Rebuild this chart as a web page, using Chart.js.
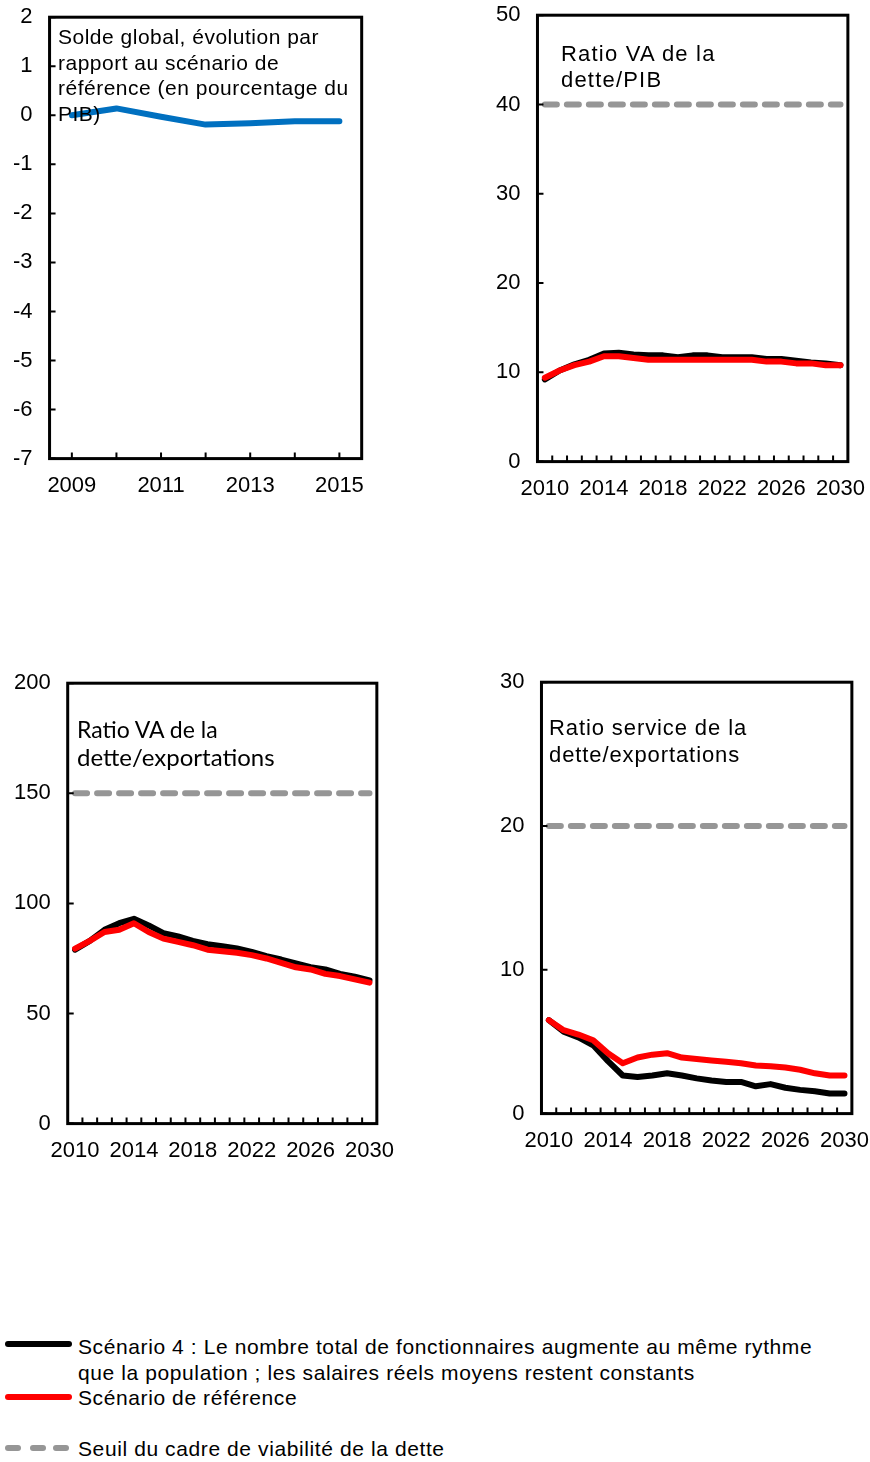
<!DOCTYPE html>
<html lang="fr">
<head>
<meta charset="utf-8">
<script src="https://cdn.jsdelivr.net/npm/chart.js@4.4.1/dist/chart.umd.min.js"></script>
<style>
  body { margin: 0; background: #fff; }
  #page { position: relative; width: 870px; height: 1462px; overflow: hidden;
          font-family: "Liberation Sans", Arial, sans-serif; color: #000; }
  canvas { position: absolute; }
  .titre { position: absolute; white-space: nowrap; }
  .leg { position: absolute; left: 78px; font-size: 21px; letter-spacing: 0.6px; line-height: 25.5px; white-space: nowrap; }
  .trait { position: absolute; left: 5px; width: 67px; height: 6px; border-radius: 3px; }
  .tiret { position: absolute; width: 16px; height: 6px; border-radius: 3px; background: #969696; }
</style>
</head>
<body>
<div id="page">
  <canvas id="c1"></canvas>
  <canvas id="c2"></canvas>
  <canvas id="c3"></canvas>
  <canvas id="c4"></canvas>

  <div class="titre" style="left:58px; top:24px; font-size:21px; letter-spacing:0.5px; line-height:25.5px;">Solde global, évolution par<br>rapport au scénario de<br>référence (en pourcentage du<br>PIB)</div>
  <div class="titre" style="left:561px; top:41px; font-size:22px; letter-spacing:1.2px; line-height:26px;">Ratio VA de la<br>dette/PIB</div>
  <div class="titre" style="left:77px; top:715px; font-family:Lato, sans-serif; font-size:23px; line-height:28px;">Ratio VA de la</div>
  <div class="titre" style="left:77px; top:742px; font-family:Lato, sans-serif; font-size:24px; line-height:29px;">dette/exportations</div>
  <div class="titre" style="left:549px; top:714px; font-size:22px; letter-spacing:0.9px; line-height:27px;">Ratio service de la<br>dette/exportations</div>

  <div class="trait" style="top:1341px; background:#000;"></div>
  <div class="leg" style="top:1334px;">Scénario 4 : Le nombre total de fonctionnaires augmente au même rythme<br>que la population ; les salaires réels moyens restent constants</div>
  <div class="trait" style="top:1394px; background:#f00;"></div>
  <div class="leg" style="top:1385px;">Scénario de référence</div>
  <div class="tiret" style="left:5px; top:1445px;"></div>
  <div class="tiret" style="left:30px; top:1445px;"></div>
  <div class="tiret" style="left:53px; top:1445px;"></div>
  <div class="leg" style="top:1436px;">Seuil du cadre de viabilité de la dette</div>
</div>

<script>
// années
const annees1 = ['2009', '2010', '2011', '2012', '2013', '2014', '2015'];
const annees = ['2010', '2011', '2012', '2013', '2014', '2015', '2016', '2017', '2018', '2019', '2020',
                '2021', '2022', '2023', '2024', '2025', '2026', '2027', '2028', '2029', '2030'];

// solde global, écart au scénario de référence (% du PIB)
const soldeGlobal = [0.0, 0.14, -0.03, -0.19, -0.16, -0.12, -0.12];

// VA de la dette / PIB
const vaPibScen4 = [9.2, 10.2, 10.9, 11.4, 12.1, 12.2, 12.0, 11.9, 11.9, 11.7, 11.9,
                    11.9, 11.7, 11.7, 11.7, 11.5, 11.5, 11.3, 11.1, 11.0, 10.8];
const vaPibRef = [9.4, 10.2, 10.8, 11.2, 11.8, 11.8, 11.6, 11.4, 11.4, 11.4, 11.4,
                  11.4, 11.4, 11.4, 11.4, 11.2, 11.2, 11.0, 11.0, 10.8, 10.8];

// VA de la dette / exportations
const vaExpScen4 = [79, 83, 88, 91, 93, 90, 86.5, 85, 83, 81.5, 80.6,
                    79.5, 78, 76, 74.5, 72.7, 71, 70, 68, 66.7, 65];
const vaExpRef = [79.5, 83, 87, 88, 91, 87, 84, 82.5, 81, 79, 78.3,
                  77.6, 76.5, 75, 73, 71, 70, 68, 67, 65.5, 64];

// service de la dette / exportations
const serviceScen4 = [6.5, 5.7, 5.3, 4.75, 3.65, 2.65, 2.55, 2.65, 2.8, 2.65, 2.45,
                      2.3, 2.2, 2.2, 1.9, 2.05, 1.8, 1.65, 1.55, 1.4, 1.4];
const serviceRef = [6.5, 5.8, 5.5, 5.1, 4.2, 3.5, 3.9, 4.1, 4.2, 3.9, 3.8,
                    3.7, 3.6, 3.5, 3.35, 3.3, 3.2, 3.05, 2.8, 2.65, 2.65];

// seuils du CVD
const seuilVaPib = 40;
const seuilVaExp = 150;
const seuilService = 20;

const NOIR = '#000000';
const ROUGE = '#ff0000';
const BLEU = '#0070c0';
const GRIS = '#969696';
const POLICE = '"Liberation Sans", Arial, sans-serif';

// cadre noir + petites graduations tournées vers l'intérieur
const cadre = {
  id: 'cadre',
  afterDatasetsDraw(chart, args, opts) {
    const { ctx, chartArea: a, scales: { x, y } } = chart;
    ctx.save();
    ctx.strokeStyle = '#000';
    ctx.lineWidth = 2;
    ctx.beginPath();
    const n = chart.data.labels.length;
    for (let i = 0; i < n; i++) {
      let px;
      if (opts.entre) {
        if (i === n - 1) break;
        px = (x.getPixelForValue(i) + x.getPixelForValue(i + 1)) / 2;
      } else {
        px = x.getPixelForValue(i);
      }
      ctx.moveTo(px, a.bottom);
      ctx.lineTo(px, a.bottom - 6);
    }
    y.ticks.forEach(t => {
      const py = y.getPixelForValue(t.value);
      ctx.moveTo(a.left, py);
      ctx.lineTo(a.left + 6, py);
    });
    ctx.stroke();
    ctx.lineWidth = 3;
    ctx.strokeRect(a.left, a.top, a.right - a.left, a.bottom - a.top);
    ctx.restore();
  }
};

function serie(data, couleur, ordre) {
  return {
    data: data,
    borderColor: couleur,
    borderWidth: 6,
    borderCapStyle: 'round',
    borderJoinStyle: 'round',
    pointRadius: 0,
    tension: 0,
    order: ordre
  };
}

function seuil(valeur, labels) {
  return {
    data: labels.map(() => valeur),
    borderColor: GRIS,
    borderWidth: 6,
    borderDash: [12, 10],
    borderCapStyle: 'round',
    pointRadius: 0,
    order: 2
  };
}

function config(labels, datasets, yMin, yMax, pas, tousLes, entre) {
  return {
    type: 'line',
    data: { labels: labels, datasets: datasets },
    options: {
      responsive: false,
      maintainAspectRatio: false,
      animation: false,
      layout: { padding: 2 },
      plugins: {
        legend: { display: false },
        tooltip: { enabled: false },
        cadre: { entre: entre }
      },
      scales: {
        x: {
          type: 'category',
          offset: true,
          grid: { display: false, drawTicks: false },
          border: { display: false },
          ticks: {
            autoSkip: false,
            maxRotation: 0,
            padding: 14,
            color: '#000',
            font: { family: POLICE, size: 22 },
            callback: function (v, i) { return i % tousLes === 0 ? this.getLabelForValue(v) : ''; }
          }
        },
        y: {
          min: yMin,
          max: yMax,
          grid: { display: false, drawTicks: false },
          border: { display: false },
          ticks: { stepSize: pas, padding: 17, color: '#000', font: { family: POLICE, size: 22 } }
        }
      }
    },
    plugins: [cadre]
  };
}

// p : zone de tracé voulue (gauche, haut, droite, bas) en px de page.
// On mesure les marges prises par les axes puis on ajuste la taille du canvas.
function panneau(id, p, labels, datasets, yMin, yMax, pas, tousLes, entre) {
  const c = document.getElementById(id);
  let w = (p.r - p.l) + 120;
  let h = (p.b - p.t) + 80;
  let chart = null;
  for (let passe = 0; passe < 4; passe++) {
    if (chart) chart.destroy();
    c.width = w;
    c.height = h;
    c.style.width = w + 'px';
    c.style.height = h + 'px';
    chart = new Chart(c, config(labels, datasets, yMin, yMax, pas, tousLes, entre));
    const a = chart.chartArea;
    const dw = (p.r - p.l) - (a.right - a.left);
    const dh = (p.b - p.t) - (a.bottom - a.top);
    if (Math.abs(dw) < 0.5 && Math.abs(dh) < 0.5) break;
    w = Math.round(w + dw);
    h = Math.round(h + dh);
  }
  c.style.left = (p.l - chart.chartArea.left) + 'px';
  c.style.top = (p.t - chart.chartArea.top) + 'px';
  return chart;
}

panneau('c1', { l: 50, t: 17, r: 362, b: 458 }, annees1,
  [serie(soldeGlobal, BLEU, 0)], -7, 2, 1, 2, false);

panneau('c2', { l: 537, t: 15, r: 847, b: 461 }, annees,
  [serie(vaPibRef, ROUGE, 0), serie(vaPibScen4, NOIR, 1), seuil(seuilVaPib, annees)],
  0, 50, 10, 4, true);

panneau('c3', { l: 68, t: 683, r: 377, b: 1123 }, annees,
  [serie(vaExpRef, ROUGE, 0), serie(vaExpScen4, NOIR, 1), seuil(seuilVaExp, annees)],
  0, 200, 50, 4, true);

panneau('c4', { l: 541, t: 682, r: 851, b: 1113 }, annees,
  [serie(serviceRef, ROUGE, 0), serie(serviceScen4, NOIR, 1), seuil(seuilService, annees)],
  0, 30, 10, 4, true);
</script>
</body>
</html>
